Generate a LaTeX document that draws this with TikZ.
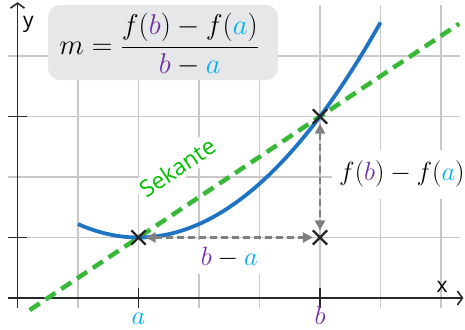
\documentclass[tikz,border=0pt]{standalone}
\usepackage{fontspec}
\newfontfamily\labsans{Open Sans}
\usetikzlibrary{arrows.meta,shapes.misc,calc}
\definecolor{pb}{RGB}{112,48,160}
\definecolor{ca}{RGB}{0,176,240}
\definecolor{curveblue}{RGB}{30,115,195}
\definecolor{secgreen}{RGB}{55,185,55}
\definecolor{labgreen}{RGB}{0,190,0}
\definecolor{boxgray}{RGB}{229,231,233}
\definecolor{gridgray}{RGB}{200,200,200}
\definecolor{axisgray}{RGB}{40,40,40}
\definecolor{dimgray}{RGB}{128,128,128}
\newcommand{\myb}{\textcolor{pb}{b}}
\newcommand{\mya}{\textcolor{ca}{a}}
\begin{document}
\begin{tikzpicture}[x=60.5pt,y=60.5pt,
  gridline/.style={draw=gridgray, line width=1.4pt},
  axisline/.style={draw=axisgray, line width=1.8pt, -{Straight Barb[length=5pt,width=14pt,line width=1.6pt]}},
  tickline/.style={draw=axisgray, line width=1.8pt},
  crossmark/.style={cross out, draw=black!85, line width=2.3pt, minimum size=12pt, inner sep=0pt},
  dimarrow/.style={draw=dimgray, line width=2.5pt, dash pattern=on 7pt off 4pt,
    {Triangle[length=10pt,width=10pt]}-{Triangle[length=10pt,width=10pt]}},
  mathlabel/.style={font=\Huge, scale=1.06, transform shape},
  axislabel/.style={font=\labsans\fontsize{21}{25}\selectfont, text=black}
]
\useasboundingbox (-0.28926,-0.51240) rectangle (7.39669,4.92562);
% grid
\foreach \i in {1,...,7} \draw[gridline] (\i,-0.165) -- (\i,4.84);
\foreach \j in {1,...,4} \draw[gridline] (-0.157,\j) -- (7.31,\j);
% formula box
\node[fill=boxgray, rounded corners=12pt, minimum width=230pt, minimum height=75pt, inner sep=0pt] (fbox) at (2.405,4.223) {};
\node[anchor=base west, inner sep=0pt, font=\Huge, scale=1.15, transform shape] (ftext) at (0.69,4.03)
  {$\displaystyle m=\frac{f(\myb)-f(\mya)}{\myb-\mya}$};
% axes
\coordinate (xs) at (-0.157,0); \coordinate (xe) at (7.37,0);
\coordinate (ys) at (0,-0.165); \coordinate (ye) at (0,4.89);
\draw[axisline] (xs) -- (xe);
\draw[axisline] (ys) -- (ye);
\node[axislabel] (xlab) at (7.02,0.19) {x};
\node[axislabel] (ylab) at (0.18,4.53) {y};
% ticks
\draw[tickline] (-0.157,1) -- (0.157,1);
\draw[tickline] (-0.157,3) -- (0.157,3);
\draw[tickline] (2,-0.165) -- (2,0.165);
\draw[tickline] (5,-0.165) -- (5,0.165);
\node[mathlabel, anchor=base, text=ca, inner sep=0.5pt] (la) at (2,-0.43) {$a$};
\node[mathlabel, anchor=base, text=pb, inner sep=0.5pt] (lb) at (5,-0.43) {$b$};
% points
\coordinate (Pa) at (2,1);
\coordinate (Pb) at (5,3);
% secant
\draw[secgreen, line width=4.5pt, dash pattern=on 12pt off 7pt] ($(Pa)!-0.6!(Pb)$) -- ($(Pa)!1.7667!(Pb)$);
% curve
\draw[curveblue, line width=3.8pt] plot[domain=1:6, samples=80, smooth] (\x,{2/9*(\x-2)^2+1});
% labels
\node[fill=white, rotate=33.69, text=labgreen, font=\labsans\fontsize{23}{27}\selectfont, inner sep=4pt] (sek) at (2.64,2.16) {Sekante};
\node[mathlabel, fill=white, anchor=base, inner xsep=3pt, inner ysep=6pt] (ba) at (3.5,0.545) {$\myb-\mya$};
\node[mathlabel, fill=white, anchor=base west, inner xsep=6.5pt, inner ysep=11pt] (fdiff) at (5.2,1.934) {$f(\myb)-f(\mya)$};
% crosses
\node[crossmark] (A) at (2,1) {};
\node[crossmark] (B) at (5,3) {};
\node[crossmark] (C) at (5,1) {};
% dimension arrows
\draw[dimarrow] (A) -- (C);
\draw[dimarrow] (B) -- (C);
\end{tikzpicture}
\end{document}
